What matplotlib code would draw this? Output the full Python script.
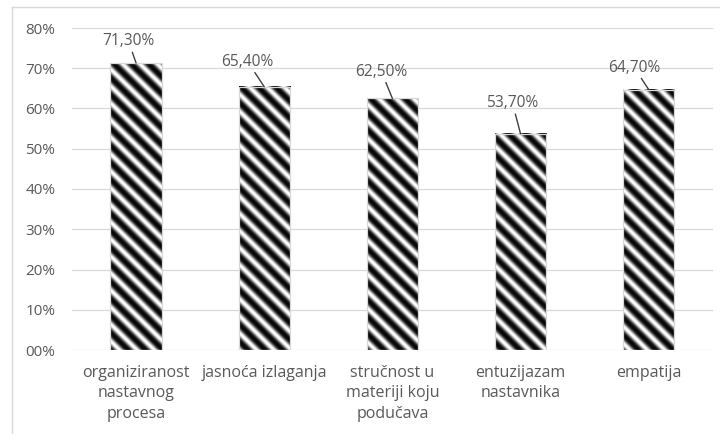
import numpy as np
import matplotlib
matplotlib.use("Agg")
import matplotlib.pyplot as plt
from matplotlib.lines import Line2D

# --- data ---------------------------------------------------------------
categories = [
    "organiziranost\nnastavnog\nprocesa",
    "jasnoća izlaganja",
    "stručnost u\nmateriji koju\npodučava",
    "entuzijazam\nnastavnika",
    "empatija",
]
values = [71.3, 65.4, 62.5, 53.7, 64.7]
value_labels = ["71,30%", "65,40%", "62,50%", "53,70%", "64,70%"]
y_ticks = [0, 10, 20, 30, 40, 50, 60, 70, 80]
y_tick_labels = ["00%", "10%", "20%", "30%", "40%", "50%", "60%", "70%", "80%"]

# label callout offsets (points) relative to the top of each bar
label_dx = [-5.4, -11.9, -7.9, -5.8, -10.4]
label_dy = [15.5, 18.0, 19.2, 22.0, 15.8]

TEXT = "#595959"
GRID = "#d9d9d9"
FONT = "Open Sans"

W, H, DPI = 720, 434, 100
fig = plt.figure(figsize=(W / DPI, H / DPI), dpi=DPI)
ax = fig.add_axes([0.1, 1 - 350 / H, 0.89, (350 - 28) / H])

x = np.arange(len(values))
bar_w = 0.4
bars = ax.bar(x, values, width=bar_w, facecolor="none", edgecolor=GRID,
              linewidth=0.9, zorder=4)
ax.set_xlim(-0.5, len(values) - 0.5)
ax.set_ylim(0, 80)

# diagonal stripe fill, computed on the pixel grid of each bar
period = 17.0
for xi, v in zip(x, values):
    (px0, py0) = ax.transData.transform((xi - bar_w / 2, 0))
    (px1, py1) = ax.transData.transform((xi + bar_w / 2, v))
    nw = max(int(round(px1 - px0)), 1)
    nh = max(int(round(py1 - py0)), 1)
    cols = px0 + np.arange(nw) + 0.5
    rows = py0 + np.arange(nh) + 0.5
    X, Y = np.meshgrid(cols, rows)
    s = 0.5 + 0.5 * np.cos(2 * np.pi * (X + Y) / period)
    shade = np.clip(s ** 1.5 * 1.0 + 0.03, 0, 1)
    ax.imshow(shade, cmap="gray", vmin=0, vmax=1, origin="lower",
              extent=(xi - bar_w / 2, xi + bar_w / 2, 0, v),
              aspect="auto", interpolation="bilinear", zorder=3)
ax.set_xlim(-0.5, len(values) - 0.5)
ax.set_ylim(0, 80)

# value labels with leader lines
for xi, v, lab, dx, dy in zip(x, values, value_labels, label_dx, label_dy):
    ax.annotate(lab, xy=(xi, v), xytext=(dx, dy), textcoords="offset points",
                ha="center", va="center", fontsize=11.2, color=TEXT,
                family=FONT,
                arrowprops=dict(arrowstyle="-", color="#404040", lw=1.0,
                                shrinkA=0, shrinkB=0), zorder=5)

ax.set_yticks(y_ticks)
ax.set_yticklabels(y_tick_labels, family=FONT, fontsize=11, color=TEXT)
ax.set_xticks(x)
ax.set_xticklabels(categories, family=FONT, fontsize=11.5, color=TEXT,
                   linespacing=1.38)
ax.tick_params(axis="y", length=0, pad=12)
ax.tick_params(axis="x", length=0, pad=10.5)
for sp in ax.spines.values():
    sp.set_visible(False)
ax.yaxis.grid(True, color=GRID, linewidth=0.9)
ax.set_axisbelow(True)

# chart area frame
fig.add_artist(Line2D([12 / W, 12 / W], [1 - 7 / H, 0], transform=fig.transFigure,
                      color=GRID, lw=1))
fig.add_artist(Line2D([12 / W, 1], [1 - 7 / H, 1 - 7 / H], transform=fig.transFigure,
                      color=GRID, lw=1))

fig.savefig("out.png", dpi=DPI)
